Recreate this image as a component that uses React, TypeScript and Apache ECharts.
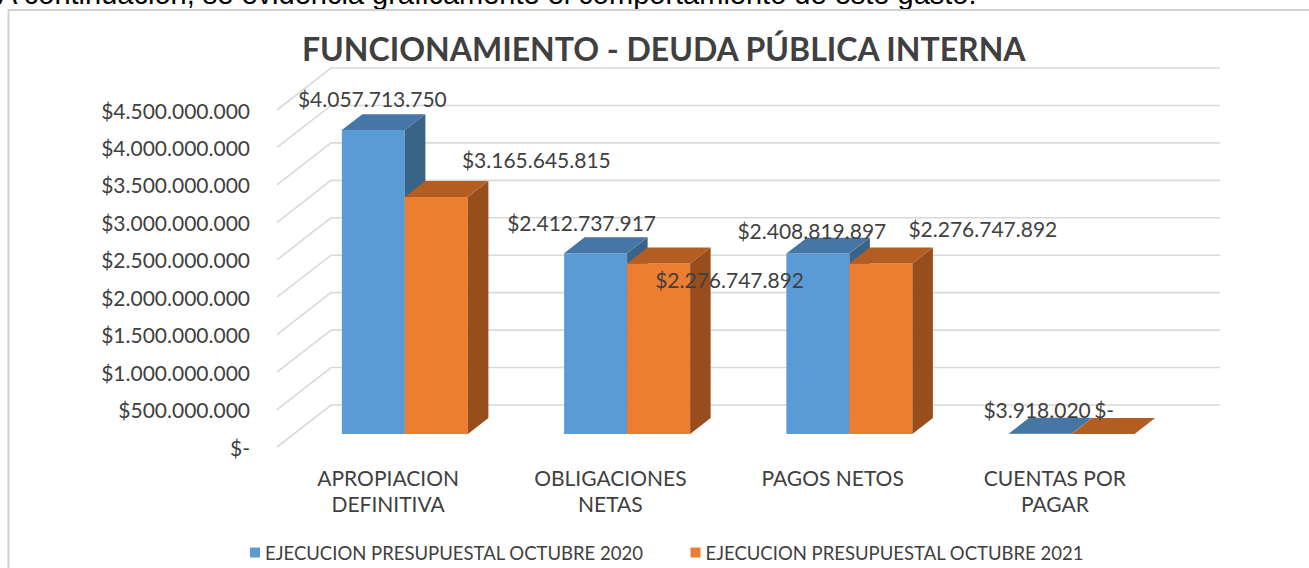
import React, { useEffect, useRef } from 'react';
import * as echarts from 'echarts';

const categories = ['APROPIACION\nDEFINITIVA', 'OBLIGACIONES\nNETAS', 'PAGOS NETOS', 'CUENTAS POR\nPAGAR'];
const seriesNames = ['EJECUCION PRESUPUESTAL OCTUBRE 2020', 'EJECUCION PRESUPUESTAL OCTUBRE 2021'];
const values2020 = [4057713750, 2412737917, 2408819897, 3918020];
const values2021 = [3165645815, 2276747892, 2276747892, 0];
const yTicks = [0, 500000000, 1000000000, 1500000000, 2000000000, 2500000000, 3000000000, 3500000000, 4000000000, 4500000000];
const titleText = 'FUNCIONAMIENTO - DEUDA PÚBLICA INTERNA';
const introText = 'A continuación, se evidencia gráficamente el comportamiento de este gasto.';

// label placement (px) relative to the top-front centre of each bar
const labelOffsets2020 = [[-1, -32], [-14, -31], [-6, -23], [-3, -24]];
const labelOffsets2021 = [[100, -37], [71, 16], [102, -35], [1, -24]];

const FONT = 'Lato';
const TEXT = '#404040';
const GRID = '#d9d9d9';
const frontColors = ['#5b9bd5', '#ed7d31'];
const topColors = ['#4576a5', '#b45d22'];
const sideColors = ['#3a6388', '#974e1c'];

// oblique depth of the floor (front -> back)
const DX = 54;
const DY = 42;
const D0 = 0.31;
const D1 = 0.69;
const BAR_FRAC = 0.2835;

const fmt = (v: number) =>
  v === 0 ? '$-' : '$' + Math.round(v).toString().replace(/\B(?=(\d{3})+(?!\d))/g, '.');

function barSeries(s: number, values: number[], offsets: number[][]) {
  return {
    type: 'custom',
    name: seriesNames[s],
    z: 3,
    itemStyle: { color: frontColors[s] },
    encode: { x: 0, y: 1 },
    data: values.map((v, i) => [i, v]),
    renderItem: (params: any, api: any) => {
      const cat = api.value(0);
      const v = api.value(1);
      const top = api.coord([cat, v]);
      const base = api.coord([cat, 0]);
      const band = api.size([1, 0])[0];
      const bw = band * BAR_FRAC;
      const cx = top[0] + DX * D0;
      const x0 = s === 0 ? cx - bw : cx;
      const x1 = x0 + bw;
      const yt = top[1] - DY * D0;
      const yb = base[1] - DY * D0;
      const ox = DX * (D1 - D0);
      const oy = DY * (D1 - D0);
      const off = offsets[params.dataIndex];
      return {
        type: 'group',
        children: [
          { type: 'rect', z2: 1, shape: { x: x0, y: yt, width: bw, height: Math.max(0, yb - yt) }, style: { fill: frontColors[s] } },
          { type: 'polygon', z2: 1, shape: { points: [[x1, yt], [x1 + ox, yt - oy], [x1 + ox, yb - oy], [x1, yb]] }, style: { fill: sideColors[s] } },
          { type: 'polygon', z2: 1, shape: { points: [[x0, yt], [x1, yt], [x1 + ox, yt - oy], [x0 + ox, yt - oy]] }, style: { fill: topColors[s] } },
          {
            type: 'text', z2: 100,
            style: {
              text: fmt(v), x: (x0 + x1) / 2 + off[0], y: yt + off[1],
              align: 'center', verticalAlign: 'middle', fill: TEXT, fontSize: 21, fontFamily: FONT,
            },
          },
        ],
      };
    },
  };
}

export default function App() {
  const ref = useRef<HTMLDivElement>(null);
  useEffect(() => {
    if (!ref.current) return;
    const chart = echarts.init(ref.current, null, { renderer: 'svg' });
    chart.setOption({
      animation: false,
      backgroundColor: '#ffffff',
      color: frontColors,
      title: {
        text: titleText,
        left: 297,
        top: 27,
        textStyle: { fontFamily: FONT, fontWeight: 'bold', fontSize: 32, color: TEXT },
      },
      legend: {
        data: seriesNames,
        left: 245,
        top: 538,
        icon: 'rect',
        itemWidth: 10,
        itemHeight: 10,
        itemGap: 47,
        textStyle: { fontFamily: FONT, fontSize: 18.5, color: TEXT },
      },
      grid: { left: 277, right: 143, top: 110, bottom: 121 },
      xAxis: {
        type: 'category',
        data: categories,
        axisLine: { show: false },
        axisTick: { show: false },
        splitLine: { show: false },
        axisLabel: { interval: 0, margin: 17, lineHeight: 26, fontSize: 21, fontFamily: FONT, color: TEXT },
      },
      yAxis: {
        type: 'value',
        min: 0,
        max: 4500000000,
        interval: 500000000,
        axisLine: { show: false },
        axisTick: { show: false },
        splitLine: { show: false },
        axisLabel: { margin: 27, fontSize: 21, fontFamily: FONT, color: TEXT, formatter: (v: number) => fmt(v) },
      },
      graphic: [
        {
          type: 'text',
          left: -2,
          top: -21,
          style: { text: introText, fontFamily: 'Liberation Sans', fontSize: 29, fill: '#000000' },
        },
        {
          type: 'rect',
          shape: { x: 8.5, y: 10, width: 1400, height: 600 },
          style: { fill: 'none', stroke: '#d0d0d0', lineWidth: 2 },
          silent: true,
        },
      ],
      series: [
        {
          type: 'custom',
          z: 1,
          silent: true,
          encode: { x: 0, y: 1 },
          data: yTicks.map((v) => [0, v]),
          renderItem: (params: any, api: any) => {
            const y = api.coord([0, api.value(1)])[1];
            const left = params.coordSys.x;
            const right = left + params.coordSys.width;
            return {
              type: 'polyline',
              shape: { points: [[left, y], [left + DX, y - DY], [right + DX, y - DY]] },
              style: { stroke: GRID, lineWidth: 1.6, fill: 'none' },
            };
          },
        },
        barSeries(0, values2020, labelOffsets2020),
        barSeries(1, values2021, labelOffsets2021),
      ],
    });
    return () => chart.dispose();
  }, []);
  return <div ref={ref} style={{ position: 'fixed', left: 0, top: 0, width: 1309, height: 568 }} />;
}
